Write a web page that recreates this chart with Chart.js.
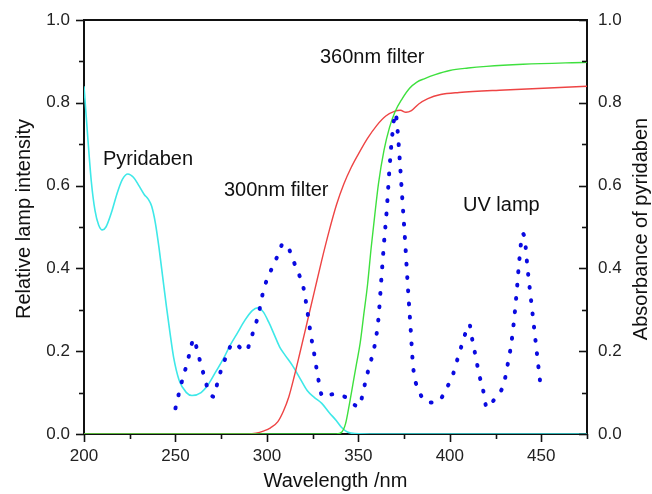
<!DOCTYPE html>
<html>
<head>
<meta charset="utf-8">
<script src="https://cdn.jsdelivr.net/npm/chart.js@4.4.1/dist/chart.umd.min.js"></script>
<style>
  html, body { margin: 0; padding: 0; background: #fff; }
  #wrap { width: 652px; height: 494px; }
</style>
</head>
<body>
<div id="wrap"><canvas id="chart" width="652" height="494"></canvas></div>
<script>
// UV lamp emission (relative intensity, left axis)
const uvWavelength = [250, 252, 254, 256, 258, 260, 262, 264, 266, 268, 271, 273, 275, 278, 281.5, 288.5, 291, 293, 295.5, 297, 299, 302, 305.5, 309, 311.5, 314.5, 317.5, 320, 322, 324, 326, 328, 330.5, 336, 343.5, 350, 352.5, 354, 356, 358, 359.5, 361, 362.5, 364, 365.5, 367, 368.5, 370.3, 371.5, 372.5, 374, 375.5, 377, 378.5, 380, 382.8, 388.3, 393.4, 398.4, 401.8, 404, 406.2, 408.5, 410.7, 412.1, 414, 416, 418.5, 420.1, 424.7, 429.5, 431.5, 433.5, 435, 436.5, 438, 439.9, 441, 442.5, 444.5, 446.5, 448, 449.5];
const uvIntensity = [0.062, 0.10, 0.135, 0.165, 0.20, 0.23, 0.20, 0.167, 0.135, 0.105, 0.09, 0.125, 0.155, 0.19, 0.22, 0.20, 0.225, 0.255, 0.29, 0.325, 0.36, 0.393, 0.427, 0.46, 0.452, 0.418, 0.386, 0.353, 0.30, 0.24, 0.19, 0.135, 0.09, 0.096, 0.088, 0.066, 0.098, 0.13, 0.163, 0.196, 0.228, 0.28, 0.37, 0.46, 0.54, 0.64, 0.72, 0.775, 0.73, 0.67, 0.57, 0.47, 0.36, 0.26, 0.16, 0.108, 0.076, 0.078, 0.112, 0.145, 0.178, 0.21, 0.243, 0.265, 0.232, 0.19, 0.145, 0.10, 0.064, 0.086, 0.121, 0.165, 0.215, 0.27, 0.34, 0.42, 0.484, 0.47, 0.40, 0.32, 0.24, 0.18, 0.121];

// Pyridaben absorbance (right axis)
const pyrWavelength = [200, 202, 204, 206, 208, 210, 212, 215, 218, 221, 224, 227, 230, 233, 235, 237, 239, 241, 243, 245, 247, 249, 252, 256, 259, 264, 268, 272, 276, 280, 284, 288, 292, 295, 298, 301, 304, 307, 310, 314, 318, 322, 326, 330, 334, 338, 341, 344, 348, 360, 400, 475];
const pyrAbsorbance = [0.84, 0.72, 0.61, 0.54, 0.505, 0.493, 0.50, 0.535, 0.58, 0.615, 0.628, 0.62, 0.60, 0.578, 0.568, 0.55, 0.51, 0.45, 0.38, 0.31, 0.245, 0.185, 0.13, 0.10, 0.093, 0.10, 0.12, 0.15, 0.18, 0.215, 0.245, 0.275, 0.298, 0.305, 0.295, 0.27, 0.24, 0.21, 0.19, 0.165, 0.135, 0.105, 0.088, 0.074, 0.052, 0.032, 0.015, 0.005, 0.001, 0, 0, 0];

// 300nm filter transmission (left axis)
const f300Wavelength = [200, 250, 290, 294, 298, 302, 306, 309, 312, 315, 318, 322, 326, 330, 334, 338, 342, 346, 350, 355, 360, 365, 370, 373, 376, 379, 383, 388, 395, 405, 430, 475];
const f300Value = [0, 0, 0, 0.002, 0.007, 0.015, 0.03, 0.055, 0.09, 0.14, 0.195, 0.27, 0.345, 0.42, 0.49, 0.553, 0.603, 0.643, 0.676, 0.714, 0.745, 0.768, 0.78, 0.782, 0.777, 0.781, 0.797, 0.81, 0.82, 0.825, 0.831, 0.84];

// 360nm filter transmission (left axis)
const f360Wavelength = [200, 300, 338, 341, 343, 345, 347, 349, 351, 353, 355, 357, 359, 361, 364, 367, 370, 374, 378, 382, 386, 392, 400, 410, 420, 440, 475];
const f360Value = [0, 0, 0, 0.005, 0.025, 0.07, 0.12, 0.17, 0.22, 0.29, 0.36, 0.45, 0.53, 0.605, 0.685, 0.74, 0.778, 0.81, 0.835, 0.85, 0.858, 0.868, 0.878, 0.884, 0.888, 0.893, 0.898];

const xTicks = [200, 250, 300, 350, 400, 450];
const yTicks = [0.0, 0.2, 0.4, 0.6, 0.8, 1.0];

const annotations = [
  { text: "Pyridaben", x: 103, y: 165 },
  { text: "300nm filter", x: 224, y: 196 },
  { text: "360nm filter", x: 320, y: 63 },
  { text: "UV lamp", x: 463, y: 211 }
];

function pts(xs, ys) {
  return xs.map((x, i) => ({ x: x, y: ys[i] }));
}

const FONT = '"Liberation Sans", Arial, Helvetica, sans-serif';

const framePlugin = {
  id: 'frame',
  afterDraw(chart) {
    const ctx = chart.ctx;
    const a = chart.chartArea;
    const xs = chart.scales.x, yl = chart.scales.y, yr = chart.scales.y2;
    ctx.save();
    ctx.strokeStyle = '#111';
    ctx.lineWidth = 2;
    // top frame line
    ctx.beginPath();
    ctx.moveTo(a.left - 1, a.top);
    ctx.lineTo(a.right + 1, a.top);
    ctx.stroke();
    ctx.lineWidth = 1.6;
    // x ticks (outward)
    for (let v = 200; v <= 475; v += 25) {
      const px = Math.round(xs.getPixelForValue(v)) + 0.5;
      const len = v % 50 === 0 ? 8 : 5;
      ctx.beginPath();
      ctx.moveTo(px, a.bottom);
      ctx.lineTo(px, a.bottom + len);
      ctx.stroke();
    }
    // y ticks: left outward, right inward
    for (let i = 0; i <= 10; i++) {
      const v = i / 10;
      const len = i % 2 === 0 ? 8 : 5;
      const pl = Math.round(yl.getPixelForValue(v)) + 0.5;
      ctx.beginPath();
      ctx.moveTo(a.left, pl);
      ctx.lineTo(a.left - len, pl);
      ctx.stroke();
      const pr = Math.round(yr.getPixelForValue(v)) + 0.5;
      ctx.beginPath();
      ctx.moveTo(a.right, pr);
      ctx.lineTo(a.right - len, pr);
      ctx.stroke();
    }
    // annotations
    ctx.fillStyle = '#111';
    ctx.font = '20px ' + FONT;
    ctx.textBaseline = 'alphabetic';
    ctx.textAlign = 'left';
    annotations.forEach(t => ctx.fillText(t.text, t.x, t.y));
    // axis titles
    ctx.textAlign = 'center';
    ctx.fillText('Wavelength /nm', (a.left + a.right) / 2, 487);
    ctx.save();
    ctx.translate(30, 219);
    ctx.rotate(-Math.PI / 2);
    ctx.fillText('Relative lamp intensity', 0, 0);
    ctx.restore();
    ctx.save();
    ctx.translate(647, 229);
    ctx.rotate(-Math.PI / 2);
    ctx.fillText('Absorbance of pyridaben', 0, 0);
    ctx.restore();
    ctx.restore();
  }
};

const tickFont = { family: FONT, size: 17 };

new Chart(document.getElementById('chart'), {
  type: 'line',
  data: {
    datasets: [
      {
        label: 'UV lamp',
        data: pts(uvWavelength, uvIntensity),
        yAxisID: 'y',
        borderColor: '#0a0ae0',
        borderWidth: 4,
        borderDash: [0.8, 12.5],
        borderCapStyle: 'round',
        cubicInterpolationMode: 'monotone',
        pointRadius: 0,
        fill: false
      },
      {
        label: '360nm filter',
        data: pts(f360Wavelength, f360Value),
        yAxisID: 'y',
        borderColor: '#3ee03e',
        borderWidth: 1.4,
        cubicInterpolationMode: 'monotone',
        pointRadius: 0,
        fill: false
      },
      {
        label: '300nm filter',
        data: pts(f300Wavelength, f300Value),
        yAxisID: 'y',
        borderColor: '#ee4444',
        borderWidth: 1.4,
        cubicInterpolationMode: 'monotone',
        pointRadius: 0,
        fill: false
      },
      {
        label: 'Pyridaben',
        data: pts(pyrWavelength, pyrAbsorbance),
        yAxisID: 'y2',
        borderColor: '#3ee8e8',
        borderWidth: 1.6,
        cubicInterpolationMode: 'monotone',
        pointRadius: 0,
        fill: false
      }
    ]
  },
  options: {
    responsive: false,
    animation: false,
    events: [],
    layout: { padding: { top: 20, left: 0, right: 0, bottom: 0 } },
    plugins: { legend: { display: false }, tooltip: { enabled: false } },
    scales: {
      x: {
        type: 'linear',
        min: 200,
        max: 475,
        afterBuildTicks: s => { s.ticks = xTicks.map(v => ({ value: v })); },
        ticks: { font: tickFont, color: '#222', padding: 4, maxRotation: 0, autoSkip: false, callback: v => String(v) },
        grid: { display: false },
        border: { display: true, color: '#111', width: 2 },
        afterFit: s => { s.height = 60; }
      },
      y: {
        position: 'left',
        min: 0,
        max: 1,
        afterBuildTicks: s => { s.ticks = yTicks.map(v => ({ value: v })); },
        ticks: { font: tickFont, color: '#222', padding: 6, callback: v => Number(v).toFixed(1) },
        grid: { display: false },
        border: { display: true, color: '#111', width: 2 },
        afterFit: s => { s.width = 84; }
      },
      y2: {
        position: 'right',
        min: 0,
        max: 1,
        afterBuildTicks: s => { s.ticks = yTicks.map(v => ({ value: v })); },
        ticks: { font: tickFont, color: '#222', padding: 3, callback: v => Number(v).toFixed(1) },
        grid: { display: false },
        border: { display: true, color: '#111', width: 2 },
        afterFit: s => { s.width = 65; }
      }
    }
  },
  plugins: [framePlugin]
});
</script>
</body>
</html>
